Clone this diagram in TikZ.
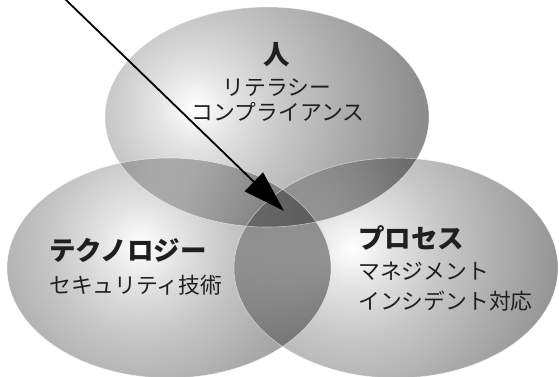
\documentclass[tikz,border=0pt]{standalone}
\usepackage{fontspec}
\setmainfont{Noto Sans CJK JP}
\usetikzlibrary{arrows.meta}
\definecolor{gA}{gray}{1.0}
\definecolor{gB}{gray}{0.89}
\definecolor{gC}{gray}{0.78}
\definecolor{gD}{gray}{0.66}
\definecolor{gF}{gray}{0.56}
\definecolor{gE}{gray}{0.53}
\definecolor{inkc}{gray}{0.12}
\pgfdeclareradialshading{glowshade}{\pgfpointorigin}{color(0bp)=(gA); color(8bp)=(gB); color(18bp)=(gC); color(32bp)=(gD); color(44bp)=(gF); color(50bp)=(gE)}
\tikzset{
  headtext/.style={font=\fontsize{26.5}{28}\selectfont\bfseries, inner sep=0pt, text=inkc},
  bodytext/.style={font=\fontsize{21.8}{23}\selectfont, inner sep=0pt, text=inkc},
  seam/.style={draw=white, draw opacity=0.55, line width=0.6pt},
  pointer/.style={line width=1.8pt, draw=black, -{Triangle[length=42pt,width=26pt]}}
}
\newcommand{\glowat}[1]{%
  \begin{scope}[shift={(#1)}, scale=5]
    \pgflowlevelsynccm
    \pgfuseshading{glowshade}
  \end{scope}}
\begin{document}
\begin{tikzpicture}[x=1pt,y=-1pt]
\useasboundingbox (0,0) rectangle (559,376);
\fill[white] (0,0) rectangle (559,376);
\coordinate (topC) at (267,117);
\coordinate (leftC) at (169,268);
\coordinate (rightC) at (396,268);
\coordinate (topH) at (195,108);
\coordinate (leftH) at (140,245);
\coordinate (rightH) at (352,248);
\begin{scope}[blend mode=multiply]
  \begin{scope}
    \clip (topC) ellipse [x radius=162pt, y radius=110pt];
    \glowat{topH}
  \end{scope}
  \begin{scope}
    \clip (leftC) ellipse [x radius=162pt, y radius=110pt];
    \glowat{leftH}
  \end{scope}
  \begin{scope}
    \clip (rightC) ellipse [x radius=162pt, y radius=110pt];
    \glowat{rightH}
  \end{scope}
\end{scope}
\path[seam] (topC) ellipse [x radius=162pt, y radius=110pt];
\path[seam] (leftC) ellipse [x radius=162pt, y radius=110pt];
\path[seam] (rightC) ellipse [x radius=162pt, y radius=110pt];
% texts
\node[headtext] (hito) at (277,55) {人};
\node[bodytext] (lit) at (277,88) {リテラシー};
\node[bodytext] (comp) at (278,112) {コンプライアンス};
\node[headtext, anchor=west] (tech) at (49,250.5) {テクノロジー};
\node[bodytext, anchor=west] (sec) at (49,285) {セキュリティ技術};
\node[headtext, anchor=west] (proc) at (358,238) {プロセス};
\node[bodytext, anchor=west] (mgmt) at (358,271.5) {マネジメント};
\node[bodytext, anchor=west] (inc) at (358,301.5) {インシデント対応};
% arrow
\coordinate (arrS) at (58.8,-7);
\coordinate (arrT) at (284,211);
\draw[pointer] (arrS) -- (arrT);
\end{tikzpicture}
\end{document}
